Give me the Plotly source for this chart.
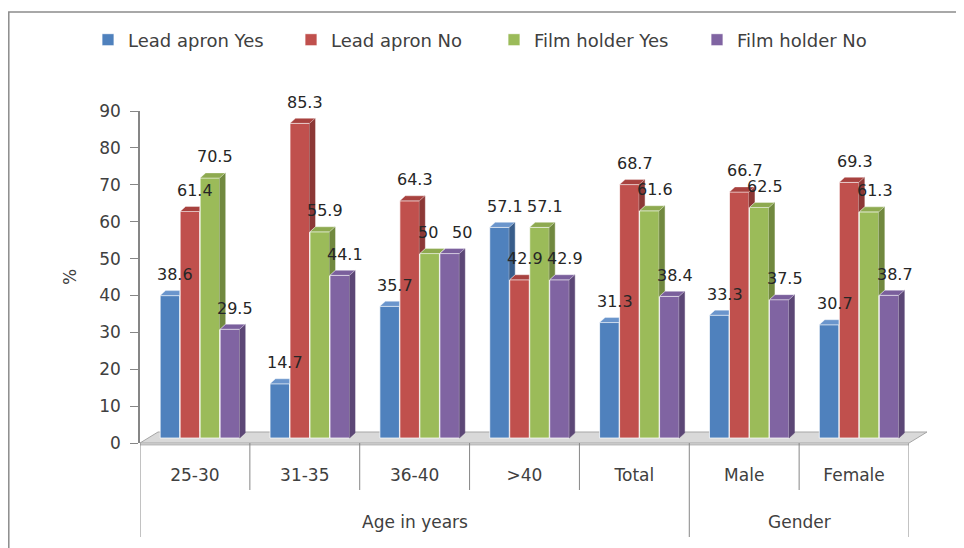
import plotly.graph_objects as go

# ---------------- data ----------------
categories = ["25-30", "31-35", "36-40", ">40", "Total", "Male", "Female"]
groups = ["Age in years", "Age in years", "Age in years", "Age in years", "Age in years", "Gender", "Gender"]
series_names = ["Lead apron Yes", "Lead apron No", "Film holder Yes", "Film holder No"]
lead_apron_yes = [38.6, 14.7, 35.7, 57.1, 31.3, 33.3, 30.7]
lead_apron_no = [61.4, 85.3, 64.3, 42.9, 68.7, 66.7, 69.3]
film_holder_yes = [70.5, 55.9, 50, 57.1, 61.6, 62.5, 61.3]
film_holder_no = [29.5, 44.1, 50, 42.9, 38.4, 37.5, 38.7]
y_ticks = [0, 10, 20, 30, 40, 50, 60, 70, 80, 90]

series_values = [lead_apron_yes, lead_apron_no, film_holder_yes, film_holder_no]

# ---------------- style ----------------
front_colors = ["#4F81BD", "#C0504D", "#9BBB59", "#8064A2"]
side_colors = ["#385D8A", "#8C3836", "#71893F", "#5C4776"]
top_colors = ["#6A95CC", "#A8423F", "#8EAA50", "#7A5F9C"]
axis_gray = "#868686"
text_gray = "#404040"
FONT = "DejaVu Sans"

W, H = 964, 548
PAGE_OFF = 8  # the html body margin shifts the figure by 8px
# target screen positions of the plot area
S_LEFT, S_RIGHT, S_TOP, S_BOTTOM = 140, 909, 111, 443
ML = S_LEFT - PAGE_OFF
MT = S_TOP - PAGE_OFF
MR = W - (S_RIGHT - PAGE_OFF)
MB = H - (S_BOTTOM - PAGE_OFF)
PW, PH = W - ML - MR, H - MT - MB


def pxx(sx):
    return (sx - PAGE_OFF - ML) / PW


def pxy(sy):
    return (H - MB - (sy - PAGE_OFF)) / PH


# bar geometry (in axis units)
STEP = 0.182
BAR_W = 0.178
SHIFT = 0.0455
DX = 0.05          # depth offset in x units
Y_PX = PH / 90.0
DY = 5 / Y_PX      # depth offset in y units
BASE_OFF = 5 / Y_PX  # bars sit slightly behind the axis plane

n = len(categories)


def bar_x(i, j):
    return i + SHIFT + (j - 1.5) * STEP


fig = go.Figure()

# invisible trace so the visible value axis (y) is created
fig.add_trace(go.Scatter(x=[None], y=[None], xaxis="x", yaxis="y", showlegend=False, hoverinfo="skip"))

for j, (name, vals) in enumerate(zip(series_names, series_values)):
    xs = [bar_x(i, j) for i in range(n)]
    fig.add_trace(go.Bar(
        x=xs, y=vals, width=BAR_W, name=name,
        marker=dict(color=front_colors[j], line=dict(color="rgba(255,255,255,0.75)", width=1)),
        xaxis="x", yaxis="y2", hoverinfo="skip",
    ))

# 3-D faces (top and visible part of side), computed from the values
for j, vals in enumerate(series_values):
    tx, ty, sx, sy = [], [], [], []
    for i in range(n):
        v = vals[i]
        c = bar_x(i, j)
        L, R = c - BAR_W / 2, c + BAR_W / 2
        nxt = series_values[j + 1][i] if j < 3 else None
        if nxt is not None and nxt > v:
            tx += [L, R, R, L + DX, L, None]
            ty += [v, v, v + DY, v + DY, v, None]
        else:
            tx += [L, R, R + DX, L + DX, L, None]
            ty += [v, v, v + DY, v + DY, v, None]
        base = nxt if nxt is not None else 0
        if v > base:
            sx += [R, R, R + DX, R + DX, R, None]
            sy += [base, v, v + DY, base + DY, base, None]
    fig.add_trace(go.Scatter(x=sx, y=sy, mode="lines", fill="toself", fillcolor=side_colors[j],
                             line=dict(color=side_colors[j], width=0.5), xaxis="x", yaxis="y2",
                             showlegend=False, hoverinfo="skip"))
    fig.add_trace(go.Scatter(x=tx, y=ty, mode="lines", fill="toself", fillcolor=top_colors[j],
                             line=dict(color="rgba(255,255,255,0.6)", width=0.6), xaxis="x", yaxis="y2",
                             showlegend=False, hoverinfo="skip"))

annotations = []
# data labels (labels of equal neighbouring bars are pushed apart)
for j, vals in enumerate(series_values):
    for i, v in enumerate(vals):
        xshift = 0
        if j > 0 and series_values[j - 1][i] == v:
            xshift += 7
        if j < 3 and series_values[j + 1][i] == v:
            xshift -= 7
        annotations.append(dict(
            x=bar_x(i, j) + DX, y=v + DY, xref="x", yref="y2",
            text=f"{v:g}", showarrow=False, yanchor="middle", yshift=16, xshift=xshift,
            font=dict(family=FONT, size=16, color="#262626"),
        ))

# group labels
uniq = []
for g in groups:
    if g not in uniq:
        uniq.append(g)
for g in uniq:
    idx = [i for i, gg in enumerate(groups) if gg == g]
    annotations.append(dict(
        x=sum(idx) / len(idx), y=pxy(522), xref="x", yref="paper",
        text=g, showarrow=False, yanchor="middle",
        font=dict(family=FONT, size=17, color=text_gray),
    ))

shapes = []
# outer chart border
shapes.append(dict(type="rect", xref="paper", yref="paper",
                   x0=pxx(PAGE_OFF + 0.8), x1=pxx(961), y0=pxy(580), y1=pxy(12),
                   line=dict(color="#8c8c8c", width=1.5), layer="below"))
# floor
fl = [(140, 443), (909, 443), (927, 432), (158, 432)]
path = "M " + " L ".join(f"{pxx(a)},{pxy(b)}" for a, b in fl) + " Z"
shapes.append(dict(type="path", xref="paper", yref="paper", path=path,
                   fillcolor="#d9d9d9", line=dict(color="#a6a6a6", width=1), layer="below"))
shapes.append(dict(type="line", xref="paper", yref="paper", x0=pxx(140), x1=pxx(909),
                   y0=pxy(444.5), y1=pxy(444.5), line=dict(color="#bfbfbf", width=2), layer="below"))
# dividers
for k in range(n + 1):
    xb = k - 0.5
    outer = k == 0 or k == n or groups[k] != groups[k - 1]
    shapes.append(dict(type="line", xref="x", yref="paper", x0=xb, x1=xb,
                       y0=pxy(443), y1=pxy(537 if outer else 490),
                       line=dict(color=axis_gray, width=1)))

fig.update_layout(
    width=W, height=H,
    margin=dict(l=ML, r=MR, t=MT, b=MB, autoexpand=False),
    paper_bgcolor="white", plot_bgcolor="rgba(0,0,0,0)",
    barmode="overlay",
    showlegend=True,
    legend=dict(orientation="h", x=pxx(88), xanchor="left", y=pxy(40), yanchor="middle",
                entrywidth=158, entrywidthmode="pixels",
                font=dict(family=FONT, size=18, color=text_gray), bgcolor="rgba(0,0,0,0)"),
    xaxis=dict(range=[-0.5, n - 0.5], tickvals=list(range(n)), ticktext=categories,
               ticks="", showline=False, showgrid=False, zeroline=False,
               tickfont=dict(family=FONT, size=17, color=text_gray), ticklabelstandoff=20),
    yaxis=dict(range=[0, 90], tickvals=y_ticks, ticks="outside", ticklen=8, tickcolor=axis_gray,
               showline=True, linecolor=axis_gray, linewidth=1.5, showgrid=False, zeroline=False,
               tickfont=dict(family=FONT, size=17, color=text_gray), ticklabelstandoff=6,
               title=dict(text="%", font=dict(family=FONT, size=17, color=text_gray), standoff=18)),
    yaxis2=dict(range=[-BASE_OFF, 90 - BASE_OFF], overlaying="y", visible=False),
    annotations=annotations,
    shapes=shapes,
)

fig.write_html("out.html")
